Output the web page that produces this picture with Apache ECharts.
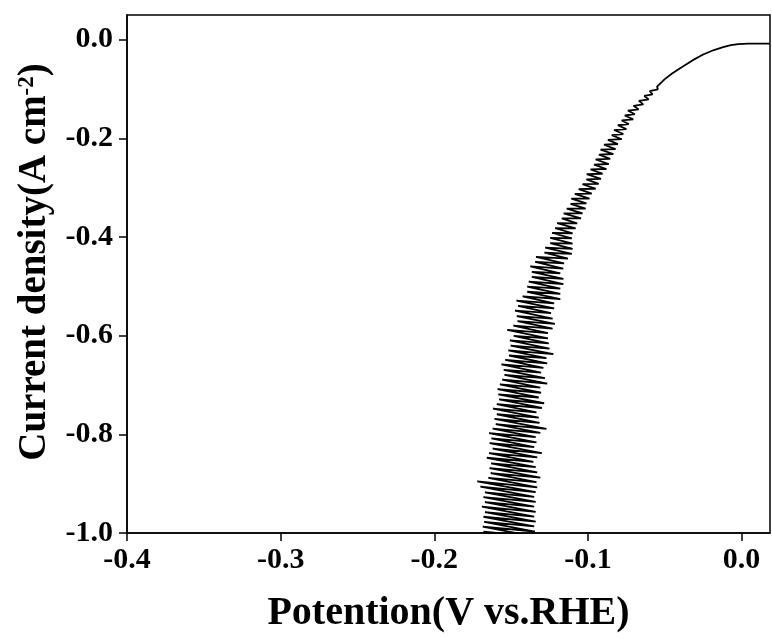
<!DOCTYPE html>
<html>
<head>
<meta charset="utf-8">
<script src="https://cdn.jsdelivr.net/npm/echarts@6/dist/echarts.min.js"></script>
<style>html,body{margin:0;padding:0;background:#fff}#c{width:772px;height:639px}</style>
</head>
<body>
<div id="c"></div>
<script>
// Potential (V vs. RHE) / current density (A cm^-2) pairs
var xTicks = [-0.4, -0.3, -0.2, -0.1, 0.0];
var yTicks = [-1.0, -0.8, -0.6, -0.4, -0.2, 0.0];

var smoothPart = [
  [0.0185, -0.008], [0.010, -0.008], [0.004, -0.008], [-0.002, -0.009], [-0.007, -0.011],
  [-0.012, -0.015], [-0.018, -0.021], [-0.025, -0.030], [-0.032, -0.042], [-0.039, -0.056],
  [-0.045, -0.068], [-0.050, -0.080], [-0.053, -0.089], [-0.055, -0.095]
];

var lowNoisePart = [
  [-0.0545, -0.1007], [-0.0598, -0.1041], [-0.0580, -0.1107], [-0.0633, -0.1141], [-0.0605, -0.1211],
  [-0.0668, -0.1241], [-0.0640, -0.1311], [-0.0703, -0.1341], [-0.0670, -0.1413], [-0.0740, -0.1437],
  [-0.0695, -0.1511], [-0.0760, -0.1537], [-0.0705, -0.1615], [-0.0780, -0.1637], [-0.0735, -0.1711],
  [-0.0805, -0.1735], [-0.0750, -0.1813], [-0.0830, -0.1832], [-0.0770, -0.1913], [-0.0845, -0.1935],
  [-0.0780, -0.2018], [-0.0870, -0.2032], [-0.0805, -0.2115], [-0.0895, -0.2130], [-0.0820, -0.2218],
  [-0.0918, -0.2228], [-0.0835, -0.2318], [-0.0928, -0.2330], [-0.0855, -0.2415], [-0.0950, -0.2428],
  [-0.0865, -0.2520], [-0.0960, -0.2532], [-0.0880, -0.2622], [-0.0983, -0.2630], [-0.0905, -0.2718],
  [-0.1008, -0.2726], [-0.0915, -0.2820], [-0.1010, -0.2832], [-0.0930, -0.2922], [-0.1035, -0.2930],
  [-0.0950, -0.3022], [-0.1060, -0.3028], [-0.0975, -0.3120], [-0.1085, -0.3126], [-0.0990, -0.3222],
  [-0.1108, -0.3224], [-0.1010, -0.3320], [-0.1113, -0.3328], [-0.1015, -0.3424], [-0.1138, -0.3424],
  [-0.1035, -0.3522], [-0.1158, -0.3521], [-0.1045, -0.3624], [-0.1170, -0.3624], [-0.1070, -0.3722],
  [-0.1200, -0.3719], [-0.1080, -0.3826], [-0.1213, -0.3821], [-0.1100, -0.3924], [-0.1233, -0.3919],
  [-0.1105, -0.4029]
];

var midNoisePart = [
  [-0.1245, -0.4019], [-0.1100, -0.4135], [-0.1245, -0.4124], [-0.1100, -0.4240], [-0.1278, -0.4215],
  [-0.1105, -0.4344], [-0.1283, -0.4319], [-0.1130, -0.4440], [-0.1338, -0.4402], [-0.1155, -0.4535],
  [-0.1343, -0.4506], [-0.1160, -0.4640], [-0.1375, -0.4597], [-0.1180, -0.4735], [-0.1365, -0.4706],
  [-0.1160, -0.4848], [-0.1365, -0.4810], [-0.1160, -0.4953], [-0.1385, -0.4906], [-0.1180, -0.5048],
  [-0.1395, -0.5006], [-0.1180, -0.5153], [-0.1395, -0.5110], [-0.1180, -0.5257], [-0.1425, -0.5202],
  [-0.1220, -0.5344], [-0.1465, -0.5288], [-0.1220, -0.5448], [-0.1455, -0.5397], [-0.1240, -0.5544],
  [-0.1475, -0.5493], [-0.1230, -0.5653], [-0.1463, -0.5602], [-0.1215, -0.5762], [-0.1458, -0.5706],
  [-0.1230, -0.5857], [-0.1485, -0.5797], [-0.1260, -0.5948], [-0.1525, -0.5884], [-0.1260, -0.6053],
  [-0.1483, -0.6006], [-0.1255, -0.6157], [-0.1508, -0.6097], [-0.1250, -0.6262], [-0.1503, -0.6202],
  [-0.1225, -0.6375], [-0.1518, -0.6297], [-0.1270, -0.6457], [-0.1513, -0.6402], [-0.1265, -0.6562],
  [-0.1538, -0.6493], [-0.1290, -0.6653], [-0.1563, -0.6584], [-0.1305, -0.6748], [-0.1548, -0.6693],
  [-0.1280, -0.6862], [-0.1543, -0.6797], [-0.1265, -0.6970], [-0.1558, -0.6893], [-0.1310, -0.7053]
];

var highNoisePart = [
  [-0.1573, -0.6988], [-0.1305, -0.7157], [-0.1588, -0.7084], [-0.1320, -0.7253], [-0.1583, -0.7188],
  [-0.1285, -0.7370], [-0.1578, -0.7293], [-0.1300, -0.7466], [-0.1593, -0.7388], [-0.1335, -0.7553],
  [-0.1618, -0.7480], [-0.1320, -0.7662], [-0.1593, -0.7593], [-0.1315, -0.7766], [-0.1608, -0.7688],
  [-0.1270, -0.7888], [-0.1600, -0.7793], [-0.1310, -0.7970], [-0.1620, -0.7884], [-0.1340, -0.8057],
  [-0.1643, -0.7975], [-0.1335, -0.8162], [-0.1628, -0.8084], [-0.1350, -0.8257], [-0.1640, -0.8180],
  [-0.1300, -0.8379], [-0.1620, -0.8288], [-0.1330, -0.8466], [-0.1643, -0.8380], [-0.1355, -0.8557],
  [-0.1658, -0.8475], [-0.1340, -0.8666], [-0.1630, -0.8588], [-0.1330, -0.8770], [-0.1640, -0.8684],
  [-0.1310, -0.8879], [-0.1633, -0.8788], [-0.1335, -0.8970], [-0.1648, -0.8884], [-0.1330, -0.9075],
  [-0.1720, -0.8953], [-0.1340, -0.9170], [-0.1700, -0.9062], [-0.1350, -0.9266], [-0.1670, -0.9175],
  [-0.1340, -0.9370], [-0.1680, -0.9271], [-0.1350, -0.9466], [-0.1670, -0.9375], [-0.1340, -0.9570],
  [-0.1690, -0.9466], [-0.1350, -0.9666], [-0.1670, -0.9575], [-0.1340, -0.9770], [-0.1680, -0.9671],
  [-0.1350, -0.9866], [-0.1675, -0.9775], [-0.1345, -0.9970], [-0.1685, -0.9871], [-0.1360, -1.0066],
  [-0.1680, -0.9975], [-0.1350, -1.0170], [-0.1680, -1.0075], [-0.1360, -1.0266]
];

var curve = smoothPart.concat(lowNoisePart, midNoisePart, highNoisePart);

var FONT = '"Liberation Serif", "Times New Roman", serif';
function tickFmt(list) {
  return function (v) {
    return list.some(function (t) { return Math.abs(t - v) < 1e-9; }) ? v.toFixed(1) : '';
  };
}
var chart = echarts.init(document.getElementById('c'), null, {renderer: 'canvas'});
chart.setOption({
  animation: false,
  backgroundColor: '#fff',
  grid: {left: 127, right: 2, top: 15, bottom: 106, containLabel: false, outerBoundsMode: 'none',
    show: true, borderColor: '#000', borderWidth: 1.5, backgroundColor: 'transparent'},
  xAxis: {
    type: 'value', min: -0.4, max: 0.0185, interval: 0.1,
    name: 'Potention(V vs.RHE)', nameLocation: 'middle', nameGap: 61,
    nameTextStyle: {fontFamily: FONT, fontWeight: 'bold', fontSize: 40, color: '#000'},
    axisLine: {show: true, onZero: false, lineStyle: {color: '#000', width: 1.5}},
    axisTick: {show: true, inside: false, length: 8, lineStyle: {color: '#000', width: 1.5}},
    axisLabel: {fontFamily: FONT, fontWeight: 'bold', fontSize: 30, color: '#000', margin: 12,
      formatter: tickFmt(xTicks), showMaxLabel: false},
    splitLine: {show: false}
  },
  yAxis: {
    type: 'value', min: -1.0, max: 0.05, interval: 0.2,
    name: '{a|Current density(A cm}{s|-2}{a|)}', nameLocation: 'middle', nameGap: 69, nameRotate: 90,
    nameTextStyle: {padding: [0, 0, 0, 24], rich: {
      a: {fontFamily: FONT, fontWeight: 'bold', fontSize: 39, color: '#000'},
      s: {fontFamily: FONT, fontWeight: 'bold', fontSize: 23, color: '#000', verticalAlign: 'top', padding: [0, 0, 16, 0]}
    }},
    axisLine: {show: true, onZero: false, lineStyle: {color: '#000', width: 1.5}},
    axisTick: {show: true, inside: false, length: 8, lineStyle: {color: '#000', width: 1.5}},
    axisLabel: {fontFamily: FONT, fontWeight: 'bold', fontSize: 30, color: '#000', margin: 14,
      formatter: tickFmt(yTicks), showMaxLabel: false},
    splitLine: {show: false}
  },
  series: [{
    type: 'line', data: curve, showSymbol: false, clip: true,
    lineStyle: {color: '#000', width: 1.8}
  }]
});
</script>
</body>
</html>
